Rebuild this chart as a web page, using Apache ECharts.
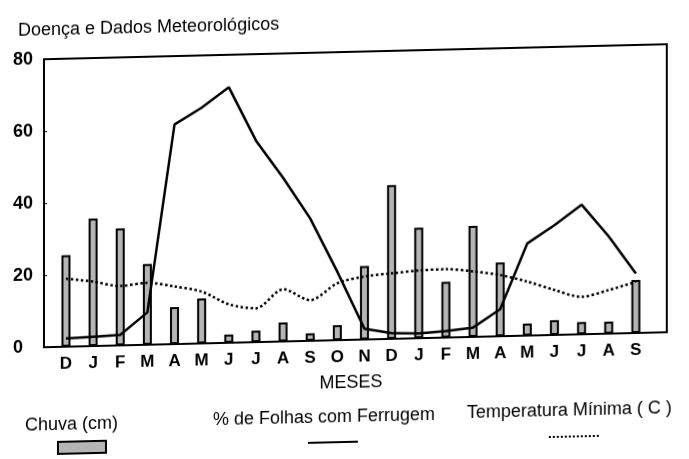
<!DOCTYPE html>
<html>
<head>
<meta charset="utf-8">
<title>Doença e Dados Meteorológicos</title>
<script src="https://cdn.jsdelivr.net/npm/echarts@6/dist/echarts.min.js"></script>
<style>
    html, body { margin: 0; padding: 0; background: #fff; }
    /* the scanned original is slightly tilted, right side higher */
    #main { width: 689px; height: 459px; transform: skewY(-1.38deg); transform-origin: 344.5px 229.5px; }
</style>
</head>
<body>
<div id="main"></div>
<script>
// meses (dez a set, dois anos)
const meses = ['D', 'J', 'F', 'M', 'A', 'M', 'J', 'J', 'A', 'S', 'O', 'N', 'D', 'J', 'F', 'M', 'A', 'M', 'J', 'J', 'A', 'S'];
// chuva (cm)
const chuva = [25.4, 35.4, 32.5, 22.4, 10.3, 12.5, 2.3, 3.2, 5.3, 2.1, 4.2, 20.4, 42.7, 30.7, 15.5, 30.8, 20.5, 3.3, 4.1, 3.4, 3.3, 14.7];
// % de folhas com ferrugem
const ferrugem = [2.3, 2.6, 2.9, 9, 61, 65.5, 71, 56, 45.5, 34, 19, 3, 1.6, 1.3, 1.8, 2.6, 7.5, 25.6, 30.5, 36, 27, 16.5];
// temperatura minima (C)
const temperatura = [18.9, 17.9, 16.5, 17.2, 16, 14.4, 10.7, 9.4, 14.5, 11.3, 15.8, 17.5, 18.2, 18.8, 19, 18.2, 17, 15, 12.5, 10.4, 12.1, 14.2];
const yTicks = [0, 20, 40, 60, 80];

const nomes = ['Chuva (cm)', '% de Folhas com Ferrugem', 'Temperatura Mínima ( C )'];
const fonte = '"Liberation Sans", Arial, Helvetica, sans-serif';
const estiloBarra = { color: '#b5b5b5', borderColor: '#000', borderWidth: 2 };

let myChart = echarts.init(document.getElementById('main'));

let option = {
    backgroundColor: '#fff',
    animation: false,
    textStyle: { fontFamily: fonte, color: '#000' },
    title: {
        text: 'Doença e Dados Meteorológicos',
        left: 13,
        top: 9,
        textStyle: { fontFamily: fonte, fontSize: 18, fontWeight: 'normal', color: '#000' }
    },
    grid: [
        // moldura + eixo y
        { left: 44, right: 22, top: 52, bottom: 119, show: true, borderColor: '#000', borderWidth: 2, backgroundColor: 'transparent' },
        // area dos dados
        { left: 52.4, right: 39.4, top: 52, bottom: 119 }
    ],
    xAxis: [
        { gridIndex: 0, type: 'value', show: false, min: 0, max: 1 },
        {
            gridIndex: 1,
            type: 'category',
            data: meses,
            axisLine: { show: false },
            axisTick: { show: false },
            axisLabel: { margin: 9, fontSize: 17, fontWeight: 'bold', color: '#000', fontFamily: fonte, interval: 0 },
            name: 'MESES',
            nameLocation: 'middle',
            nameGap: 34,
            nameTextStyle: { fontSize: 18, color: '#000', fontFamily: fonte }
        }
    ],
    yAxis: [
        {
            gridIndex: 0,
            type: 'value',
            min: yTicks[0],
            max: yTicks[yTicks.length - 1],
            interval: yTicks[1] - yTicks[0],
            axisLine: { show: true, lineStyle: { color: '#000', width: 2 } },
            axisTick: { show: true, inside: true, length: 3, lineStyle: { color: '#000' } },
            splitLine: { show: false },
            axisLabel: { align: 'left', margin: 31, fontSize: 18, fontWeight: 'bold', color: '#000', fontFamily: fonte }
        },
        { gridIndex: 1, type: 'value', min: 0, max: 80, show: false, splitLine: { show: false } }
    ],
    legend: [
        {
            data: [{ name: nomes[0], icon: 'rect', itemStyle: estiloBarra }],
            left: 57, top: 434, padding: 0, itemWidth: 48, itemHeight: 12,
            formatter: () => '', selectedMode: false,
            itemStyle: estiloBarra
        },
        {
            data: [nomes[1]], left: 307, top: 435, padding: 0, itemWidth: 50, itemHeight: 14,
            formatter: () => '', selectedMode: false, itemStyle: { opacity: 0 }
        },
        {
            data: [nomes[2]], left: 548, top: 435, padding: 0, itemWidth: 50, itemHeight: 14,
            formatter: () => '', selectedMode: false, itemStyle: { opacity: 0 }
        }
    ],
    graphic: [
        { type: 'text', left: 25, top: 409, style: { text: nomes[0], font: '18px ' + fonte, fill: '#000' } },
        { type: 'text', left: 213, top: 408, style: { text: nomes[1], font: '18px ' + fonte, fill: '#000' } },
        { type: 'text', left: 467, top: 407, style: { text: nomes[2], font: '18px ' + fonte, fill: '#000' } }
    ],
    series: [
        {
            name: nomes[0],
            type: 'bar',
            xAxisIndex: 1,
            yAxisIndex: 1,
            data: chuva,
            barWidth: 9,
            itemStyle: estiloBarra
        },
        {
            name: nomes[1],
            type: 'line',
            xAxisIndex: 1,
            yAxisIndex: 1,
            data: ferrugem,
            symbol: 'none',
            lineStyle: { color: '#000', width: 2.5 },
            itemStyle: { color: '#000' }
        },
        {
            name: nomes[2],
            type: 'line',
            xAxisIndex: 1,
            yAxisIndex: 1,
            data: temperatura,
            symbol: 'none',
            smooth: 0.3,
            lineStyle: { color: '#000', width: 2.5, type: 'dotted' },
            itemStyle: { color: '#000' }
        }
    ]
};

myChart.setOption(option);
</script>
</body>
</html>
